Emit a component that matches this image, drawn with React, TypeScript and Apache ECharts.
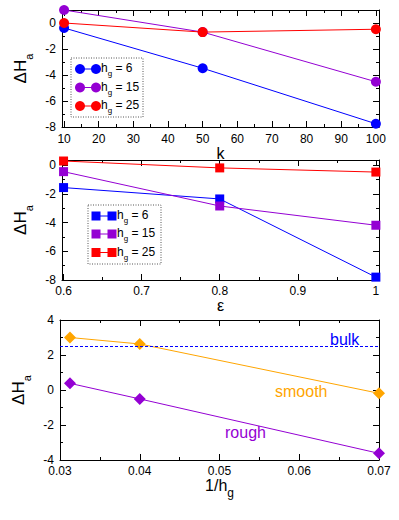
import React, { useEffect, useRef } from "react";
import * as echarts from "echarts";

// ---------- data ----------
const kValues = [10, 50, 100];
const kHg6 = [-0.38, -3.48, -7.75];
const kHg15 = [1.0, -0.7, -4.52];
const kHg25 = [0.0, -0.7, -0.48];

const epsValues = [0.6, 0.8, 1.0];
const epsHg6 = [-1.57, -2.36, -7.8];
const epsHg15 = [-0.46, -2.85, -4.19];
const epsHg25 = [0.28, -0.2, -0.49];

const invHg = [0.03125, 0.04, 0.07];
const smoothVals = [3.0, 2.63, -0.19];
const roughVals = [0.38, -0.51, -3.62];
const bulkValue = 2.5;

const hgLabels = ["6", "15", "25"];

// tick values
const kMajor = [10, 20, 30, 40, 50, 60, 70, 80, 90, 100];
const kMinor = [15, 25, 35, 45, 55, 65, 75, 85, 95];
const epsMajor = [0.6, 0.7, 0.8, 0.9, 1];
const epsMinor = [0.65, 0.75, 0.85, 0.95];
const invMajor = [0.03, 0.04, 0.05, 0.06, 0.07];
const invMinor = [0.035, 0.045, 0.055, 0.065];
const y8Major = [-8, -6, -4, -2, 0];
const y8Minor = [-7, -5, -3, -1, 1];
const y4Major = [-4, -2, 0, 2, 4];
const y4Minor = [-3, -1, 1, 3];

const FONT = '"Liberation Sans", Arial, Helvetica, sans-serif';
const BLUE = "#0000ff";
const PURPLE = "#9400d3";
const RED = "#ff0000";
const ORANGE = "#ffa500";

const zip = (xs: number[], ys: number[]) => xs.map((x, i) => [x, ys[i]]);

function makeAxes(
  dim: "x" | "y",
  grid: number,
  min: number,
  max: number,
  major: number[],
  minor: number[],
  name: string,
  nameGap: number,
  rich: any,
  labelMargin: number
) {
  const pos = dim === "x" ? ["bottom", "top"] : ["left", "right"];
  const base = { type: "value", gridIndex: grid, min, max, splitLine: { show: false } };
  const line = { show: true, onZero: false, lineStyle: { color: "#000", width: 1 } };
  const noLine = { show: false, onZero: false };
  const tick = (vals: number[], len: number) => ({
    show: true,
    inside: true,
    length: len,
    customValues: vals,
    lineStyle: { color: "#000", width: 1 },
  });
  return [
    {
      ...base,
      position: pos[0],
      axisLine: line,
      axisTick: tick(major, 6),
      axisLabel: {
        show: true,
        customValues: major,
        color: "#000",
        fontSize: 12,
        fontFamily: FONT,
        margin: labelMargin,
        showMinLabel: true,
        showMaxLabel: true,
      },
      name,
      nameLocation: "middle",
      nameGap,
      nameTextStyle: { color: "#000", fontSize: 16, fontFamily: FONT, rich },
    },
    { ...base, position: pos[0], axisLine: noLine, axisTick: tick(minor, 3), axisLabel: { show: false } },
    { ...base, position: pos[1], axisLine: line, axisTick: tick(major, 6), axisLabel: { show: false } },
    { ...base, position: pos[1], axisLine: noLine, axisTick: tick(minor, 3), axisLabel: { show: false } },
  ];
}

const yRich = {
  m: { fontSize: 17, verticalAlign: "top", fontFamily: FONT, color: "#000" },
  s: { fontSize: 11, verticalAlign: "top", padding: [11, 0, 0, 0], fontFamily: FONT, color: "#000" },
};
const xRich = {
  m: { fontSize: 16, verticalAlign: "top", fontFamily: FONT, color: "#000" },
  s: { fontSize: 12, verticalAlign: "top", padding: [9, 0, 0, 0], fontFamily: FONT, color: "#000" },
};
const legRich = {
  m: { fontSize: 12, verticalAlign: "top", fontFamily: FONT, fill: "#000", color: "#000" },
  s: { fontSize: 8, verticalAlign: "top", padding: [7.5, 0, 0, 0], fontFamily: FONT, fill: "#000", color: "#000" },
};

function lineSeries(name: string, xi: number, data: number[][], color: string, symbol: string, size: number) {
  return {
    type: "line",
    name,
    xAxisIndex: xi,
    yAxisIndex: xi,
    data,
    symbol,
    symbolSize: size,
    itemStyle: { color },
    lineStyle: { color, width: 1 },
    silent: true,
    z: 3,
  };
}

function legendGraphic(
  left: number,
  top: number,
  w: number,
  h: number,
  rows: number[],
  x1: number,
  x2: number,
  tx: number,
  colors: string[],
  shape: "circle" | "rect"
) {
  const children: any[] = [
    {
      type: "rect",
      shape: { x: left, y: top, width: w, height: h },
      style: { fill: "#fff", stroke: "#555", lineWidth: 1, lineDash: [1, 1.5] },
    },
  ];
  rows.forEach((cy, i) => {
    const c = colors[i];
    children.push({
      type: "line",
      shape: { x1, y1: cy, x2, y2: cy },
      style: { stroke: c, lineWidth: 1 },
    });
    [x1, x2].forEach((cx) => {
      if (shape === "circle") {
        children.push({ type: "circle", shape: { cx, cy, r: 5 }, style: { fill: c } });
      } else {
        children.push({ type: "rect", shape: { x: cx - 4.5, y: cy - 4.5, width: 9, height: 9 }, style: { fill: c } });
      }
    });
    children.push({
      type: "text",
      x: tx,
      y: cy - 7,
      style: {
        text: `{m|h}{s|g}{m| = ${hgLabels[i]}}`,
        rich: legRich,
        fill: "#000",
        fontFamily: FONT,
        fontSize: 12,
        verticalAlign: "top",
      },
    });
  });
  return { type: "group", children };
}

export default function App() {
  const ref = useRef<HTMLDivElement>(null);
  useEffect(() => {
    if (!ref.current) return;
    const chart = echarts.init(ref.current, undefined, { renderer: "svg" });
    const yName = "{m|ΔH}{s|a}";
    const xAxes = [
      ...makeAxes("x", 0, 9.4, 100.9, kMajor, kMinor, "{m|k}", 18, xRich, 6),
      ...makeAxes("x", 1, 0.598, 1.004, epsMajor, epsMinor, "{m|ε}", 10, xRich, 5),
      ...makeAxes("x", 2, 0.03, 0.07, invMajor, invMinor, "{m|1/h}{s|g}", 12, xRich, 5),
    ];
    const yAxes = [
      ...makeAxes("y", 0, -8, 1, y8Major, y8Minor, yName, 14, yRich, 6),
      ...makeAxes("y", 1, -8, 0.35, y8Major, y8Minor, yName, 14, yRich, 6),
      ...makeAxes("y", 2, -4, 4, y4Major, y4Minor, yName, 14, yRich, 6),
    ];
    const option: any = {
      animation: false,
      backgroundColor: "#fff",
      grid: [
        { left: 62, top: 10, width: 317, height: 117 },
        { left: 62, top: 160, width: 317, height: 120 },
        { left: 60, top: 320, width: 319, height: 140 },
      ],
      xAxis: xAxes,
      yAxis: yAxes,
      series: [
        lineSeries("k6", 0, zip(kValues, kHg6), BLUE, "circle", 10),
        lineSeries("k15", 0, zip(kValues, kHg15), PURPLE, "circle", 10),
        lineSeries("k25", 0, zip(kValues, kHg25), RED, "circle", 10),
        lineSeries("e6", 4, zip(epsValues, epsHg6), BLUE, "rect", 9),
        lineSeries("e15", 4, zip(epsValues, epsHg15), PURPLE, "rect", 9),
        lineSeries("e25", 4, zip(epsValues, epsHg25), RED, "rect", 9),
        {
          ...lineSeries("smooth", 8, zip(invHg, smoothVals), ORANGE, "diamond", 12),
          markLine: {
            silent: true,
            symbol: "none",
            label: { show: false },
            lineStyle: { color: BLUE, type: [3, 2], width: 1 },
            data: [{ yAxis: bulkValue }],
          },
        },
        lineSeries("rough", 8, zip(invHg, roughVals), PURPLE, "diamond", 12),
      ],
      graphic: [
        legendGraphic(71, 58, 72, 59, [69, 87.5, 106], 80, 96, 101, [BLUE, PURPLE, RED], "circle"),
        legendGraphic(88, 205, 73, 59, [216, 234, 252.5], 96, 112, 117, [BLUE, PURPLE, RED], "rect"),
        {
          type: "text",
          x: 330,
          y: 339.5,
          style: { text: "bulk", fill: BLUE, fontSize: 16, fontFamily: FONT, verticalAlign: "middle" },
        },
        {
          type: "text",
          x: 275,
          y: 391.5,
          style: { text: "smooth", fill: ORANGE, fontSize: 16, fontFamily: FONT, verticalAlign: "middle" },
        },
        {
          type: "text",
          x: 225,
          y: 432,
          style: { text: "rough", fill: PURPLE, fontSize: 16, fontFamily: FONT, verticalAlign: "middle" },
        },
      ],
    };
    chart.setOption(option);
    return () => chart.dispose();
  }, []);
  return (
    <div
      ref={ref}
      style={{ position: "absolute", left: 0, top: 0, width: 399, height: 520, background: "#fff" }}
    />
  );
}
